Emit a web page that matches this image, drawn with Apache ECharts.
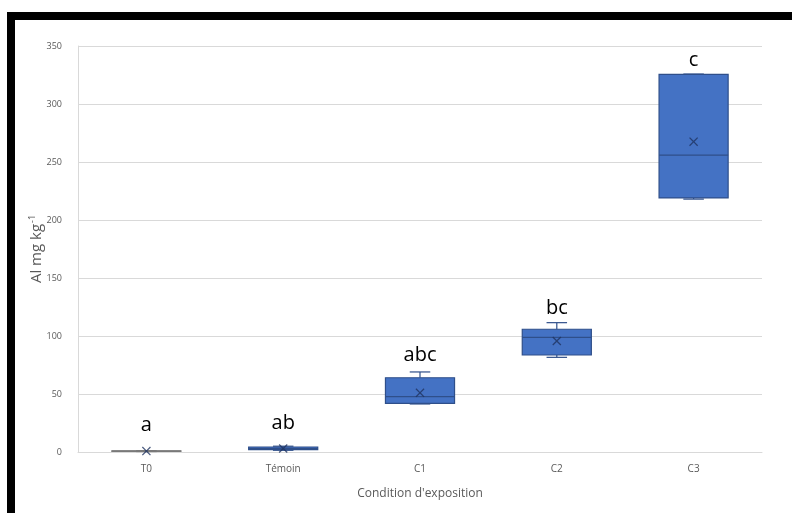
<!DOCTYPE html>
<html>
<head>
<meta charset="utf-8">
<script src="https://cdn.jsdelivr.net/npm/echarts@6/dist/echarts.min.js"></script>
<style>
html,body{margin:0;padding:0;background:#fff;}
#chart{position:absolute;left:0;top:0;width:792px;height:513px;}
.bar{position:absolute;background:#000;}
</style>
</head>
<body>
<div id="chart"></div>
<div class="bar" style="left:7px;top:12px;width:785px;height:8px;"></div>
<div class="bar" style="left:7px;top:12px;width:8px;height:501px;"></div>
<script>
// Categories and values
var categories = ['T0', 'Témoin', 'C1', 'C2', 'C3'];
// [min, Q1, median, Q3, max]
var boxValues = [
  [0.4, 0.6, 0.8, 1.0, 1.2],
  [1.5, 2.0, 3.0, 4.3, 5.0],
  [41.4, 42.0, 47.7, 64.0, 69.0],
  [81.6, 83.6, 98.9, 105.8, 111.5],
  [218.0, 219.0, 256.0, 325.5, 325.8]
];
var meanValues = [0.8, 3.0, 51.0, 95.7, 267.5];
var letters = ['a', 'ab', 'abc', 'bc', 'c'];
var letterAnchor = [23, 25, 83.5, 124, 338];
var yTicks = [0, 50, 100, 150, 200, 250, 300, 350];

var chart = echarts.init(document.getElementById('chart'), null, {renderer: 'canvas'});
var font = '"Open Sans", "Noto Sans", sans-serif';

var boxData = boxValues.map(function (v, i) { return [i].concat(v); });

function renderBox(params, api) {
  var i = api.value(0);
  var pMin = api.coord([i, api.value(1)]);
  var pQ1 = api.coord([i, api.value(2)]);
  var pMed = api.coord([i, api.value(3)]);
  var pQ3 = api.coord([i, api.value(4)]);
  var pMax = api.coord([i, api.value(5)]);
  var band = api.size([1, 0])[0];
  var w = band * 0.505;
  var cap = band * 0.15;
  var x = pQ1[0];
  var stroke = i === 0 ? '#7a7a7a' : '#2F4F8A';
  var fill = i === 0 ? '#7a7a7a' : '#4472C4';
  var lw = 1.2;
  return {
    type: 'group',
    children: [
      {type: 'line', shape: {x1: x, y1: pQ3[1], x2: x, y2: pMax[1]}, style: {stroke: stroke, lineWidth: lw}},
      {type: 'line', shape: {x1: x, y1: pQ1[1], x2: x, y2: pMin[1]}, style: {stroke: stroke, lineWidth: lw}},
      {type: 'line', shape: {x1: x - cap / 2, y1: pMax[1], x2: x + cap / 2, y2: pMax[1]}, style: {stroke: stroke, lineWidth: lw}},
      {type: 'line', shape: {x1: x - cap / 2, y1: pMin[1], x2: x + cap / 2, y2: pMin[1]}, style: {stroke: stroke, lineWidth: lw}},
      {type: 'rect', shape: {x: x - w / 2, y: pQ3[1], width: w, height: Math.max(pQ1[1] - pQ3[1], 0.5)},
        style: {fill: fill, stroke: stroke, lineWidth: lw}},
      {type: 'line', shape: {x1: x - w / 2, y1: pMed[1], x2: x + w / 2, y2: pMed[1]}, style: {stroke: stroke, lineWidth: lw}}
    ]
  };
}

chart.setOption({
  animation: false,
  grid: {left: 78, right: 30, top: 46, bottom: 61},
  xAxis: {
    type: 'category',
    data: categories,
    axisLine: {lineStyle: {color: '#D9D9D9'}},
    axisTick: {show: false},
    axisLabel: {color: '#595959', fontSize: 10, fontFamily: font, margin: 12},
    name: "Condition d'exposition",
    nameLocation: 'middle',
    nameGap: 36,
    nameMoveOverlap: false,
    nameTextStyle: {color: '#595959', fontSize: 12, fontFamily: font}
  },
  yAxis: {
    type: 'value',
    min: yTicks[0],
    max: yTicks[yTicks.length - 1],
    interval: 50,
    axisLine: {show: true, lineStyle: {color: '#D9D9D9'}},
    axisTick: {show: false},
    splitLine: {lineStyle: {color: '#D9D9D9'}},
    axisLabel: {color: '#595959', fontSize: 9, fontFamily: font, margin: 16},
    name: '{a|Al mg kg}{s|-1}',
    nameLocation: 'middle',
    nameGap: 32,
    nameMoveOverlap: false,
    nameRotate: 90,
    nameTextStyle: {
      rich: {
        a: {color: '#595959', fontSize: 15, fontFamily: font, lineHeight: 18},
        s: {color: '#595959', fontSize: 9, fontFamily: font, lineHeight: 18, verticalAlign: 'top', padding: [0, 0, 8, 1]}
      }
    }
  },
  series: [
    {
      type: 'custom',
      data: boxData,
      renderItem: renderBox,
      encode: {x: 0, y: [1, 2, 3, 4, 5]},
      z: 2
    },
    {
      type: 'scatter',
      data: meanValues,
      symbol: 'path://M1,0 L5,4 L9,0 L10,1 L6,5 L10,9 L9,10 L5,6 L1,10 L0,9 L4,5 L0,1 Z',
      symbolSize: 9,
      itemStyle: {color: '#1F3360'},
      z: 5
    },
    {
      type: 'scatter',
      data: letterAnchor,
      symbolSize: 1,
      itemStyle: {color: 'rgba(0,0,0,0)'},
      label: {
        show: true,
        position: 'inside',
        formatter: function (p) { return letters[p.dataIndex]; },
        color: '#000',
        opacity: 1,
        fontSize: 20,
        fontFamily: font
      },
      z: 6
    }
  ]
});
</script>
</body>
</html>
